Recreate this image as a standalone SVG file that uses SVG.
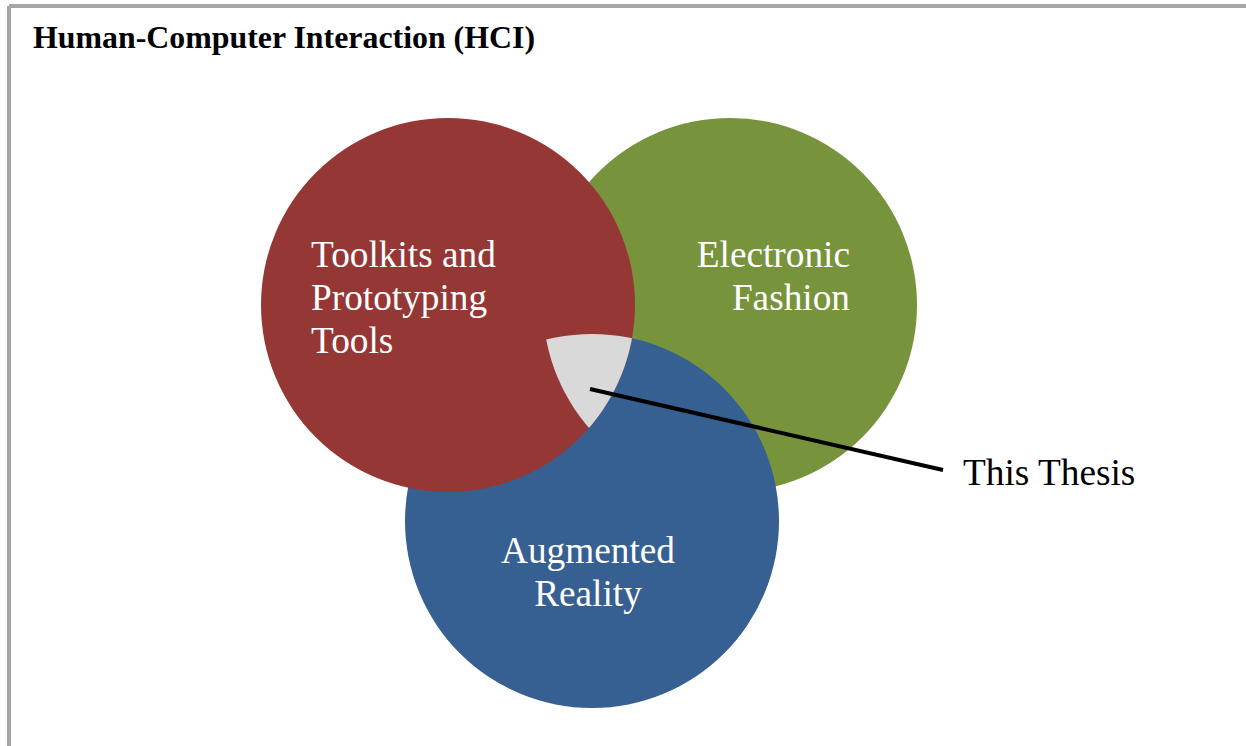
<svg xmlns="http://www.w3.org/2000/svg" width="1246" height="746" viewBox="0 0 1246 746">
<style>
.lbl{font-family:"Liberation Serif","Times New Roman",serif;font-size:37.3px;fill:#ffffff}
.ttl{font-family:"Liberation Serif","Times New Roman",serif;font-size:31px;font-weight:bold;fill:#000000}
</style>
<defs>
<clipPath id="cR"><circle cx="448" cy="305" r="187"/></clipPath>
<clipPath id="cG"><circle cx="730" cy="305" r="187"/></clipPath>
</defs>
<rect width="1246" height="746" fill="#ffffff"/>
<g id="frame">
<line x1="9" y1="6" x2="1246" y2="6" stroke="#a6a6a6" stroke-width="4"/>
<line x1="9" y1="6" x2="9" y2="746" stroke="#a6a6a6" stroke-width="4"/>
</g>
<text class="ttl" x="33" y="48" textLength="502" lengthAdjust="spacingAndGlyphs">Human-Computer Interaction (HCI)</text>
<g id="electronic-fashion">
<circle cx="730" cy="305" r="187" fill="#77933c"/>
</g>
<g id="augmented-reality">
<circle cx="592" cy="521" r="187" fill="#376092"/>
</g>
<g id="toolkits">
<circle cx="448" cy="305" r="187" fill="#953735"/>
</g>
<g id="this-thesis-region">
<g clip-path="url(#cR)"><circle cx="592" cy="521" r="187" fill="#d9d9d9" clip-path="url(#cG)"/></g>
</g>
<g id="labels">
<text class="lbl" x="311" y="267">Toolkits and</text>
<text class="lbl" x="311" y="310">Prototyping</text>
<text class="lbl" x="311" y="353">Tools</text>
<text class="lbl" x="850" y="267" text-anchor="end">Electronic</text>
<text class="lbl" x="850" y="310" text-anchor="end">Fashion</text>
<text class="lbl" x="588" y="563" text-anchor="middle">Augmented</text>
<text class="lbl" x="588" y="606" text-anchor="middle">Reality</text>
</g>
<g id="connectors">
<line x1="590" y1="389" x2="943" y2="470" stroke="#000000" stroke-width="4"/>
</g>
<g id="this-thesis">
<text class="lbl" x="963" y="485" style="fill:#000000">This Thesis</text>
</g>
</svg>
